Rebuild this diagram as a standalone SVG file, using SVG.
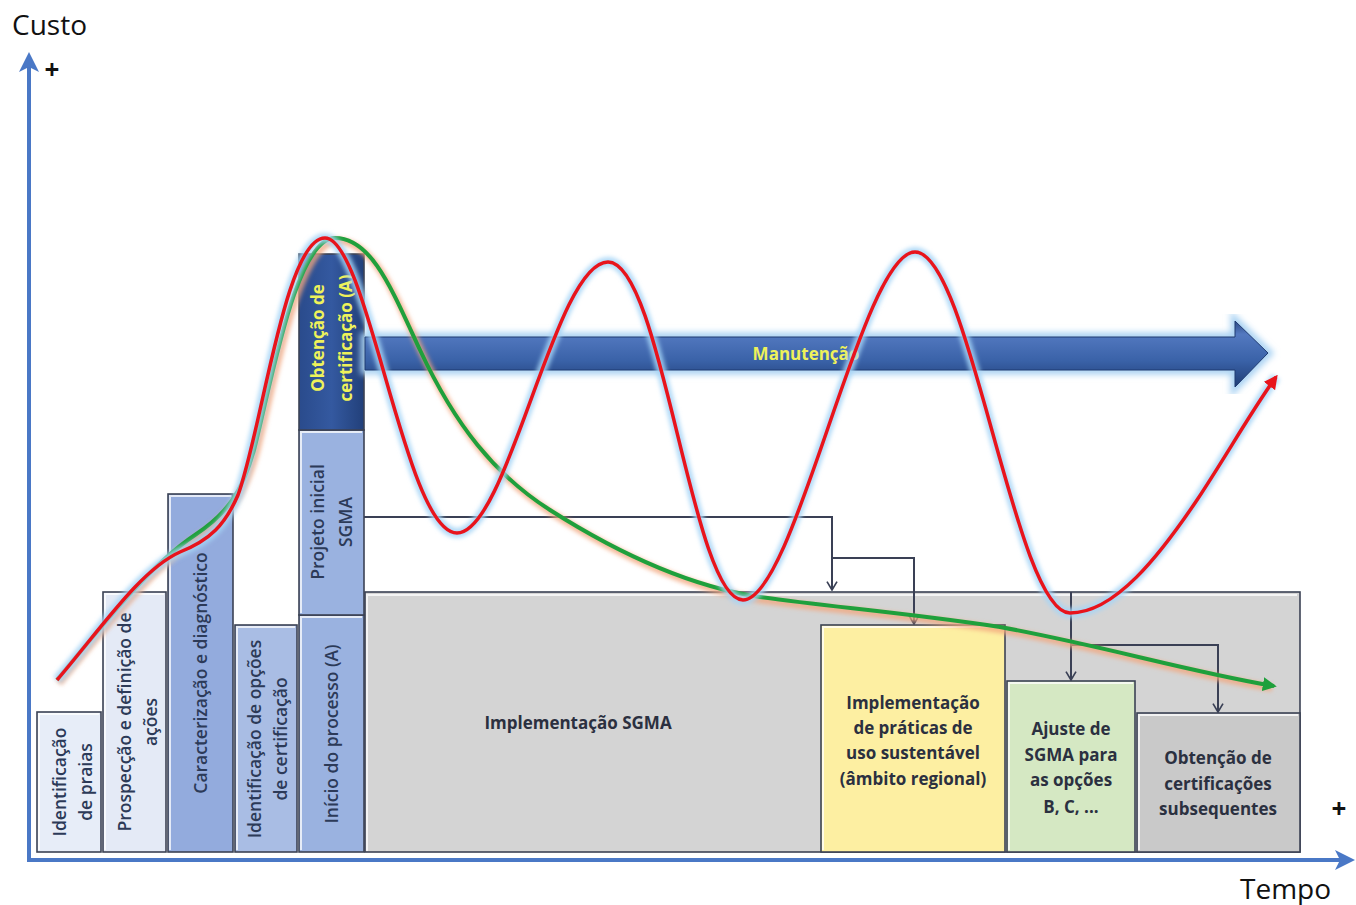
<svg xmlns="http://www.w3.org/2000/svg" width="1356" height="905" viewBox="0 0 1356 905">
<style>
.ax{fill:none;stroke:#4a78c6;stroke-width:4}
.lbl{font-family:"Open Sans","Liberation Sans",sans-serif;font-size:28px;fill:#111}
.plus{font-family:"Open Sans","Liberation Sans",sans-serif;font-size:26px;font-weight:700;fill:#111;text-anchor:middle}
.box{stroke:#3b4254;stroke-width:1.6}
.hl{fill:none;stroke:#ffffff;stroke-opacity:.75;stroke-width:2}
.bt{font-family:"Open Sans","Liberation Sans",sans-serif;font-size:17.5px;font-weight:600;fill:#2c3a58;text-anchor:middle}
.yt{font-family:"Open Sans","Liberation Sans",sans-serif;font-size:17px;font-weight:700;fill:#eef25a;text-anchor:middle}
.bx{font-family:"Open Sans","Liberation Sans",sans-serif;font-size:17px;font-weight:700;fill:#2b3040;text-anchor:middle}
.con{fill:none;stroke:#3a4055;stroke-width:2}
</style>
<defs>
<marker id="axh" viewBox="0 0 12 12" refX="6" refY="6" markerWidth="5" markerHeight="5" orient="auto">
<path d="M0,0 L12,6 L0,12 L3,6 Z" fill="#4a78c6"/>
</marker>
<marker id="vh" viewBox="0 0 12 14" refX="11" refY="7" markerUnits="userSpaceOnUse" markerWidth="10" markerHeight="14" orient="auto">
<path d="M1,1 L11,7 L1,13" fill="none" stroke="#3a4055" stroke-width="2"/>
</marker>
<marker id="rh" viewBox="0 0 10 10" refX="8" refY="5" markerUnits="userSpaceOnUse" markerWidth="14" markerHeight="14" orient="auto">
<path d="M0,0 L10,5 L0,10 Z" fill="#e8141c"/>
</marker>
<marker id="gh" viewBox="0 0 10 10" refX="8" refY="5" markerUnits="userSpaceOnUse" markerWidth="14" markerHeight="14" orient="auto">
<path d="M0,0 L10,5 L0,10 Z" fill="#1fa03c"/>
</marker>
<linearGradient id="gArrow" x1="0" y1="0" x2="0" y2="1">
<stop offset="0" stop-color="#2c4a86"/>
<stop offset="0.2" stop-color="#5379c0"/>
<stop offset="0.6" stop-color="#3a62a8"/>
<stop offset="1" stop-color="#1f3d75"/>
</linearGradient>
<linearGradient id="gObt" x1="0" y1="0" x2="1" y2="0">
<stop offset="0" stop-color="#2a4b8c"/>
<stop offset="0.5" stop-color="#3459a0"/>
<stop offset="1" stop-color="#22407a"/>
</linearGradient>
<filter id="blur3" x="-10%" y="-10%" width="120%" height="120%"><feGaussianBlur stdDeviation="3"/></filter>
<filter id="blur2" x="-10%" y="-10%" width="120%" height="120%"><feGaussianBlur stdDeviation="2"/></filter>
</defs>

<g id="axes">
<line class="ax" x1="29" y1="860" x2="29" y2="62" marker-end="url(#axh)"/>
<line class="ax" x1="27" y1="860" x2="1345" y2="860" marker-end="url(#axh)"/>
<text class="lbl" x="12" y="35" font-size="29.5">Custo</text>
<text class="plus" x="52" y="79">+</text>
<text class="plus" x="1339" y="818">+</text>
<text class="lbl" x="1240" y="899">Tempo</text>
</g>

<g id="n-implementacao-sgma">
<rect class="box" x="365" y="592" width="935" height="260" fill="#d4d4d4"/>
<polyline class="hl" points="367,851 367,595 1297,595"/>
<text class="bx" x="578" y="729" font-size="19">Implementação SGMA</text>
</g>

<g id="n-identificacao-praias">
<rect class="box" x="37" y="712" width="64" height="140" fill="#e7edf8"/>
<polyline class="hl" points="39,850 39,714 99,714"/>
<text class="bt" transform="translate(60,782) rotate(-90)" dy="6">Identificação</text>
<text class="bt" transform="translate(86,782) rotate(-90)" dy="6">de praias</text>
</g>

<g id="n-prospeccao">
<rect class="box" x="103" y="592" width="63" height="260" fill="#e4eaf6"/>
<polyline class="hl" points="105,850 105,594 164,594"/>
<text class="bt" transform="translate(125,722) rotate(-90)" dy="6">Prospecção e definição de</text>
<text class="bt" transform="translate(151,722) rotate(-90)" dy="6">ações</text>
</g>

<g id="n-caracterizacao">
<rect class="box" x="168" y="494" width="65" height="358" fill="#93abdd"/>
<polyline class="hl" points="170,850 170,496 231,496"/>
<text class="bt" transform="translate(201,673) rotate(-90)" dy="6" font-size="18">Caracterização e diagnóstico</text>
</g>

<g id="n-identificacao-opcoes">
<rect class="box" x="235" y="625" width="62" height="227" fill="#a9bde4"/>
<polyline class="hl" points="237,850 237,627 295,627"/>
<text class="bt" transform="translate(255,739) rotate(-90)" dy="6">Identificação de opções</text>
<text class="bt" transform="translate(281,739) rotate(-90)" dy="6">de certificação</text>
</g>

<g id="n-inicio">
<rect class="box" x="299" y="615" width="65" height="237" fill="#9ab2e0"/>
<polyline class="hl" points="301,850 301,617 362,617"/>
<text class="bt" transform="translate(332,734) rotate(-90)" dy="6">Início do processo (A)</text>
</g>

<g id="n-projeto">
<rect class="box" x="299" y="430" width="65" height="185" fill="#9ab2e0"/>
<polyline class="hl" points="301,613 301,432 362,432"/>
<text class="bt" transform="translate(318,522) rotate(-90)" dy="6">Projeto inicial</text>
<text class="bt" transform="translate(346,522) rotate(-90)" dy="6">SGMA</text>
</g>

<g id="n-obtencao">
<rect class="box" x="299" y="254" width="65" height="176" fill="url(#gObt)"/>
<text class="yt" transform="translate(318,338) rotate(-90)" dy="6">Obtenção de</text>
<text class="yt" transform="translate(346,338) rotate(-90)" dy="6">certificação (A)</text>
</g>

<g id="n-praticas">
<rect class="box" x="821" y="625" width="184" height="227" fill="#fdefa2"/>
<polyline class="hl" points="823,850 823,627 1003,627"/>
<text class="bx" x="913" y="709">Implementação</text>
<text class="bx" x="913" y="734">de práticas de</text>
<text class="bx" x="913" y="759">uso sustentável</text>
<text class="bx" x="913" y="785">(âmbito regional)</text>
</g>

<g id="n-ajuste">
<rect class="box" x="1007" y="681" width="128" height="171" fill="#d5e8c3"/>
<polyline class="hl" points="1009,850 1009,683 1133,683"/>
<text class="bx" x="1071" y="735">Ajuste de</text>
<text class="bx" x="1071" y="761">SGMA para</text>
<text class="bx" x="1071" y="786">as opções</text>
<text class="bx" x="1071" y="813">B, C, ...</text>
</g>

<g id="n-subsequentes">
<rect class="box" x="1137" y="713" width="163" height="139" fill="#c9c9c9"/>
<polyline class="hl" points="1139,850 1139,715 1298,715"/>
<text class="bx" x="1218" y="764">Obtenção de</text>
<text class="bx" x="1218" y="790">certificações</text>
<text class="bx" x="1218" y="815">subsequentes</text>
</g>

<g id="connectors">
<path class="con" d="M364,517 H832 V590" marker-end="url(#vh)"/>
<path class="con" d="M832,558 H914 V624" marker-end="url(#vh)"/>
<path class="con" d="M1071,592 V680" marker-end="url(#vh)"/>
<path class="con" d="M1071,645 H1218 V712" marker-end="url(#vh)"/>
</g>

<g id="n-manutencao">
<path d="M365,337 H1235 V321 L1268,353 L1235,387 V370 H365 Z" fill="none" stroke="#a9d2f3" stroke-width="9" filter="url(#blur3)"/>
<path d="M365,337 H1235 V321 L1268,353 L1235,387 V370 H365 Z" fill="url(#gArrow)" stroke="#1f3a70" stroke-width="1"/>
<text class="yt" x="806" y="360">Manutenção</text>
</g>

<g id="curves">
<path d="M57,680 C105,622 150,565 195,535 C228,513 242,492 254,450 C272,380 296,238 335,238 C372,238 392,290 420,350 C455,425 495,475 550,510 C605,545 680,585 760,597 C830,607 900,612 1000,627 C1100,645 1190,672 1270,685" transform="translate(2,3)" fill="none" stroke="#f2a77e" stroke-width="7" stroke-opacity=".8" filter="url(#blur2)"/>
<path d="M57,680 C105,622 150,565 195,535 C228,513 242,492 254,450 C272,380 296,238 335,238 C372,238 392,290 420,350 C455,425 495,475 550,510 C605,545 680,585 760,597 C830,607 900,612 1000,627 C1100,645 1190,672 1274,686" fill="none" stroke="#1fa03c" stroke-width="4" marker-end="url(#gh)"/>
<path d="M57,680 C100,630 140,570 180,552 C210,540 225,525 238,495 C262,430 285,238 325,238 C368,238 405,533 457,533 C508,533 555,262 608,262 C662,262 692,600 743,600 C795,600 862,252 915,252 C970,252 1015,613 1070,613 C1115,613 1160,555 1197,500 C1225,458 1252,410 1276,377" fill="none" stroke="#a6d5f7" stroke-width="10" stroke-opacity=".85" filter="url(#blur2)"/>
<path d="M57,680 C100,630 140,570 180,552 C210,540 225,525 238,495 C262,430 285,238 325,238 C368,238 405,533 457,533 C508,533 555,262 608,262 C662,262 692,600 743,600 C795,600 862,252 915,252 C970,252 1015,613 1070,613 C1115,613 1160,555 1197,500 C1225,458 1252,410 1276,377" fill="none" stroke="#e8141c" stroke-width="3.5" marker-end="url(#rh)"/>
</g>
</svg>
